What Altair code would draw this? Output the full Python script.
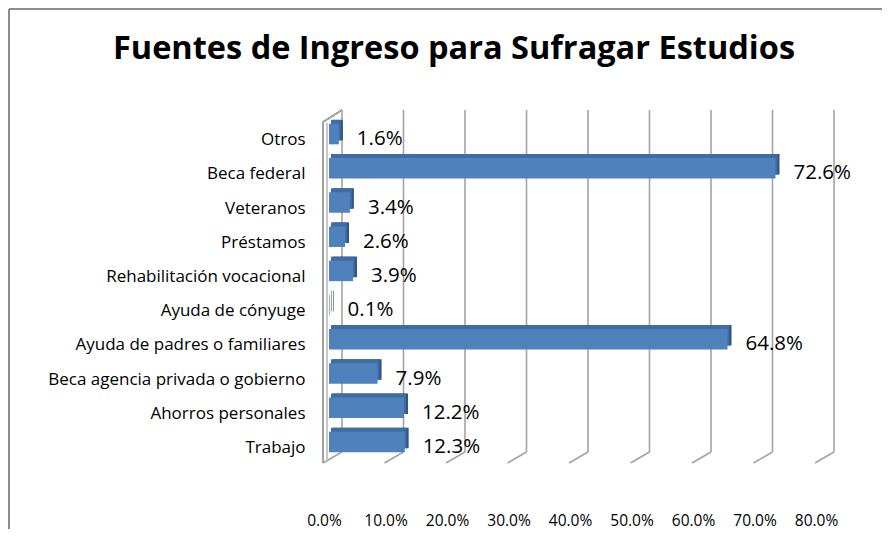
import altair as alt
import pandas as pd

categories = ["Otros", "Beca federal", "Veteranos", "Préstamos",
              "Rehabilitación vocacional", "Ayuda de cónyuge",
              "Ayuda de padres o familiares", "Beca agencia privada o gobierno",
              "Ahorros personales", "Trabajo"]
values = [1.6, 72.6, 3.4, 2.6, 3.9, 0.1, 64.8, 7.9, 12.2, 12.3]
ticks = [0, 10, 20, 30, 40, 50, 60, 70, 80]
title_text = "Fuentes de Ingreso para Sufragar Estudios"

FONT = "Open Sans"
W, H = 492, 342

df = pd.DataFrame({"cat": categories, "v": values,
                   "lbl": [f"{v:.1f}%" for v in values]})
tk = pd.DataFrame({"t": ticks})

xs = alt.Scale(domain=[0, 80], nice=False)
ys = alt.Scale(domain=categories, paddingInner=0.4, paddingOuter=0.2)

xaxis = alt.Axis(values=ticks, labelExpr="format(datum.value, '.1f') + '%'",
                 domain=False, ticks=False, grid=False, title=None,
                 labelFont=FONT, labelFontSize=15.5, labelColor="#000000",
                 labelPadding=61, labelOffset=-5, labelOverlap=False,
                 labelFlush=False, labelAlign="center", labelBaseline="middle")
yaxis = alt.Axis(domain=False, ticks=False, grid=False, title=None,
                 labelFont=FONT, labelFontSize=17, labelColor="#000000",
                 labelPadding=24, labelOffset=6, labelLimit=400)

GRID = "#A3A3A3"

grid = alt.Chart(tk).mark_rule(color=GRID, strokeWidth=1.6, xOffset=13).encode(
    x=alt.X("t:Q", scale=xs, axis=xaxis),
    y=alt.value(-7), y2=alt.value(H - 7))
floor = alt.Chart(tk).mark_rule(color=GRID, strokeWidth=1.6, xOffset=13, x2Offset=-6).encode(
    x=alt.X("t:Q", scale=xs), x2="t:Q",
    y=alt.value(H - 7), y2=alt.value(H + 4))

wall_front = alt.Chart(tk).mark_rule(color=GRID, strokeWidth=1.6, xOffset=-6).encode(
    x=alt.datum(0, scale=xs), y=alt.value(5), y2=alt.value(H + 4))
wall_inner = alt.Chart(tk).mark_rule(color="#C8C8C8", strokeWidth=1.2, xOffset=-2).encode(
    x=alt.datum(0, scale=xs), y=alt.value(6), y2=alt.value(H + 1))
wall_top = alt.Chart(tk).mark_rule(color=GRID, strokeWidth=1.4, xOffset=-6, x2Offset=13).encode(
    x=alt.datum(0, scale=xs), x2=alt.datum(0),
    y=alt.value(5), y2=alt.value(-7))

bars_side = alt.Chart(df).mark_bar(color="#2F5585", xOffset=4, x2Offset=4,
                                   yOffset=-4, y2Offset=-4, minBandSize=1).encode(
    x=alt.X("v:Q", scale=xs), x2=alt.datum(0),
    y=alt.Y("cat:N", scale=ys, sort=categories, axis=yaxis))
bars_top = alt.Chart(df).mark_bar(color="#3F6CA3", yOffset=-4, y2Offset=-4, xOffset=2, x2Offset=2).encode(
    x=alt.X("v:Q", scale=xs), x2=alt.datum(0),
    y=alt.Y("cat:N", scale=ys, sort=categories))
bars = alt.Chart(df).mark_bar(color="#4F81BD").encode(
    x=alt.X("v:Q", scale=xs), x2=alt.datum(0),
    y=alt.Y("cat:N", scale=ys, sort=categories))
labels = alt.Chart(df).mark_text(align="left", baseline="middle", dx=18, dy=5,
                                 font=FONT, fontSize=20.5, color="#000000").encode(
    x=alt.X("v:Q", scale=xs), y=alt.Y("cat:N", scale=ys, sort=categories),
    text="lbl:N")

title = alt.Chart(pd.DataFrame({"t": [title_text]})).mark_text(
    align="center", baseline="middle", font=FONT, fontSize=32.5, fontWeight="bold",
    color="#000000").encode(x=alt.value(125), y=alt.value(-68), text="t:N")

border_left = alt.Chart(tk).mark_rule(color="#8C8C8C", strokeWidth=2).encode(
    x=alt.value(-320), y=alt.value(-108), y2=alt.value(H + 80))
border_top = alt.Chart(tk).mark_rule(color="#8C8C8C", strokeWidth=2).encode(
    x=alt.value(-320), x2=alt.value(W + 80), y=alt.value(-108))

chart = alt.layer(border_left, border_top, grid, floor, wall_inner, wall_front, wall_top,
                  bars_side, bars_top, bars, labels, title).properties(
    width=W, height=H,
    autosize=alt.AutoSizeParams(type="none"),
    padding={"left": 321, "top": 109, "right": 61, "bottom": 70},
).configure(background="#FFFFFF").configure_view(strokeWidth=0)

chart.save("out.html", embed_options={"renderer": "svg", "actions": False})
